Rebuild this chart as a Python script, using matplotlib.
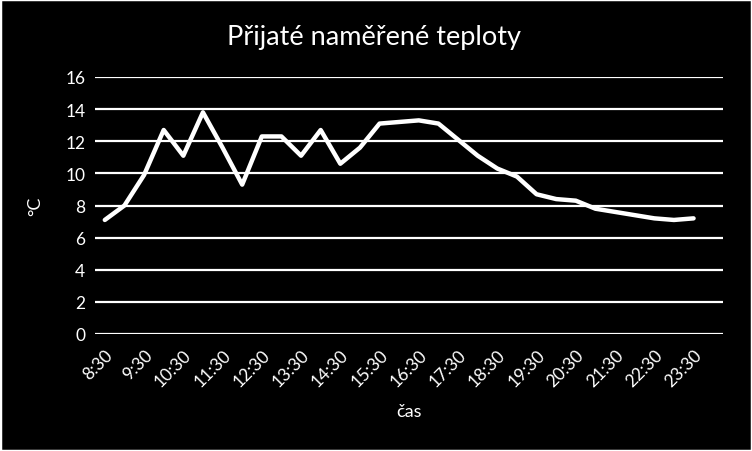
import matplotlib
matplotlib.use("Agg")
import matplotlib.pyplot as plt
from matplotlib.patches import Rectangle

# data
times = ["8:30", "9:00", "9:30", "10:00", "10:30", "11:00", "11:30", "12:00", "12:30", "13:00",
         "13:30", "14:00", "14:30", "15:00", "15:30", "16:00", "16:30", "17:00", "17:30", "18:00",
         "18:30", "19:00", "19:30", "20:00", "20:30", "21:00", "21:30", "22:00", "22:30", "23:00",
         "23:30"]
temps = [7.1, 8.0, 9.9, 12.7, 11.1, 13.8, 11.6, 9.3, 12.3, 12.3,
         11.1, 12.7, 10.6, 11.6, 13.1, 13.2, 13.3, 13.1, 12.1, 11.1,
         10.3, 9.8, 8.7, 8.4, 8.3, 7.8, 7.6, 7.4, 7.2, 7.1,
         7.2]
n_slots = 32
tick_labels = times[::2]
yticks = [0, 2, 4, 6, 8, 10, 12, 14, 16]

title = "Přijaté naměřené teploty"
xlabel = "čas"
ylabel = "°C"

plt.rcParams['font.family'] = ['Lato', 'DejaVu Sans']

fig = plt.figure(figsize=(7.52, 4.52), dpi=100, facecolor="black")
fig.patches.append(Rectangle((0, 0), 1, 1, transform=fig.transFigure,
                             facecolor="none", edgecolor="white", lw=2.5, zorder=10))

ax = fig.add_axes([95/752, (452-335)/452, (723-95)/752, (335-78)/452])
ax.set_facecolor("black")
x = list(range(len(temps)))
ax.plot(x, temps, color="white", lw=3.2, solid_joinstyle="round", solid_capstyle="round", zorder=3)

ax.set_xlim(-0.5, n_slots - 0.5)
ax.set_ylim(0, 16)
ax.set_yticks(yticks)
ax.set_yticklabels([str(v) for v in yticks], color="white", fontsize=12.5)
ax.set_xticks(list(range(0, len(times), 2)))
ax.set_xticklabels(tick_labels, rotation=45, ha="right", rotation_mode="anchor",
                   color="white", fontsize=12.5)
ax.tick_params(axis="both", length=0, pad=7)
ax.tick_params(axis="x", pad=9)
ax.grid(axis="y", color="white", lw=1.6, zorder=1)
for s in ax.spines.values():
    s.set_visible(False)

fig.text(0.497, (452-38)/452, title, color="white", fontsize=19.5, ha="center", va="center")
ax.set_xlabel(xlabel, color="white", fontsize=13, labelpad=10)
ax.set_ylabel(ylabel, color="white", fontsize=13, labelpad=16)

fig.savefig("out.png", dpi=100, facecolor="black")
